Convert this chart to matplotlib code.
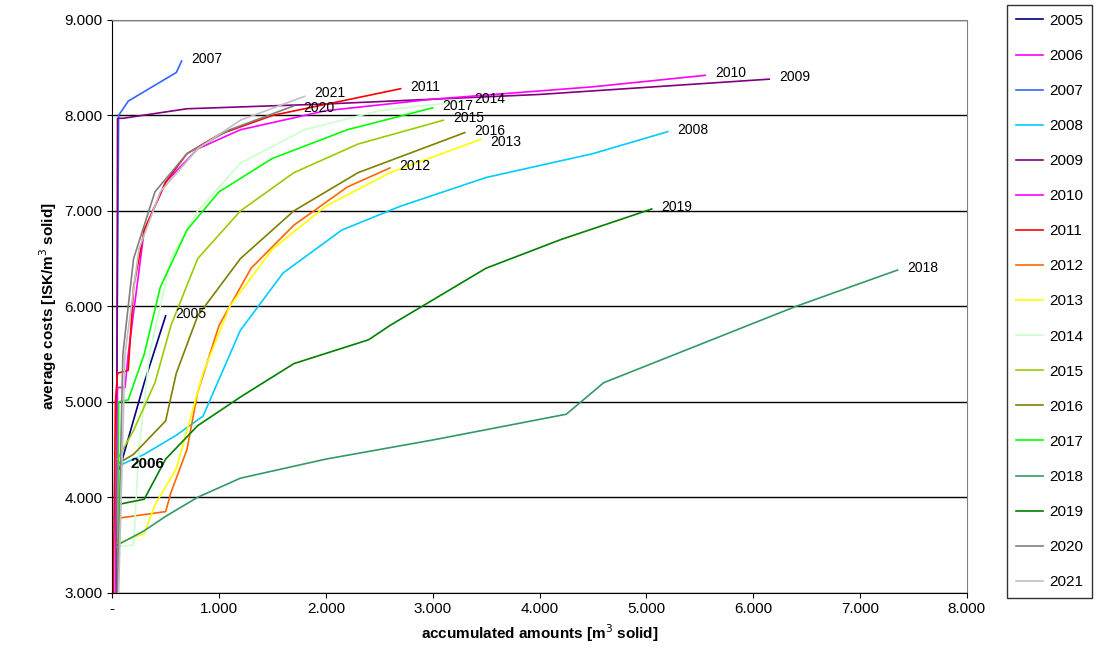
import numpy as np
import matplotlib.pyplot as plt
from matplotlib.ticker import FuncFormatter

years = ["2005", "2006", "2007", "2008", "2009", "2010", "2011", "2012", "2013",
         "2014", "2015", "2016", "2017", "2018", "2019", "2020", "2021"]
colors = ["#000080", "#ff00ff", "#3366ff", "#00ccff", "#800080", "#ff00ff", "#ff0000",
          "#ff6600", "#ffff00", "#ccffcc", "#99cc00", "#808000", "#00ff00", "#339966",
          "#008000", "#808080", "#c0c0c0"]

# accumulated amounts (thousand m3) and average costs (thousand ISK/m3)
x2005 = [0.07, 0.3, 0.5]
y2005 = [4.3, 5.2, 5.9]
x2006 = [0.05, 0.1]
y2006 = [4.3, 4.35]
x2007 = [0.03, 0.06, 0.15, 0.6, 0.65]
y2007 = [3.0, 8.0, 8.15, 8.45, 8.57]
x2008 = [0.1, 0.3, 0.6, 0.85, 1.2, 1.6, 2.15, 2.7, 3.5, 4.5, 5.2]
y2008 = [4.35, 4.45, 4.65, 4.85, 5.75, 6.35, 6.8, 7.05, 7.35, 7.6, 7.83]
x2009 = [0.04, 0.05, 0.1, 0.7, 2.0, 4.0, 6.15]
y2009 = [3.0, 7.97, 7.97, 8.07, 8.12, 8.22, 8.38]
x2010 = [0.03, 0.05, 0.12, 0.15, 0.3, 0.5, 0.8, 1.2, 2.0, 3.0, 4.5, 5.55]
y2010 = [3.0, 5.15, 5.15, 5.5, 6.8, 7.3, 7.65, 7.85, 8.05, 8.17, 8.3, 8.42]
x2011 = [0.01, 0.03, 0.05, 0.15, 0.2, 0.3, 0.5, 0.7, 1.0, 1.5, 2.7]
y2011 = [3.0, 5.0, 5.3, 5.33, 6.2, 6.8, 7.3, 7.6, 7.8, 8.0, 8.28]
x2012 = [0.05, 0.5, 0.55, 0.7, 0.8, 1.0, 1.3, 1.7, 2.2, 2.6]
y2012 = [3.78, 3.85, 4.05, 4.5, 5.1, 5.8, 6.4, 6.85, 7.25, 7.45]
x2013 = [0.05, 0.3, 0.4, 0.6, 0.7, 0.85, 1.1, 1.5, 2.0, 2.6, 3.45]
y2013 = [3.52, 3.62, 3.92, 4.3, 4.7, 5.3, 6.0, 6.6, 7.05, 7.4, 7.75]
x2014 = [0.05, 0.2, 0.25, 0.35, 0.55, 0.8, 1.2, 1.8, 2.5, 3.3]
y2014 = [3.48, 3.5, 4.5, 5.5, 6.5, 7.0, 7.5, 7.85, 8.05, 8.15]
x2015 = [0.05, 0.2, 0.4, 0.55, 0.8, 1.2, 1.7, 2.3, 3.1]
y2015 = [4.4, 4.7, 5.2, 5.8, 6.5, 7.0, 7.4, 7.7, 7.95]
x2016 = [0.05, 0.2, 0.5, 0.6, 0.8, 1.2, 1.7, 2.3, 3.3]
y2016 = [4.35, 4.45, 4.8, 5.3, 5.9, 6.5, 7.0, 7.4, 7.82]
x2017 = [0.05, 0.06, 0.15, 0.3, 0.45, 0.7, 1.0, 1.5, 2.2, 3.0]
y2017 = [3.0, 5.0, 5.02, 5.5, 6.2, 6.8, 7.2, 7.55, 7.85, 8.08]
x2018 = [0.05, 0.3, 0.5, 0.8, 1.2, 2.0, 3.0, 4.25, 4.6, 5.5, 6.4, 7.35]
y2018 = [3.5, 3.65, 3.8, 4.0, 4.2, 4.4, 4.6, 4.87, 5.2, 5.6, 6.0, 6.38]
x2019 = [0.08, 0.3, 0.5, 0.8, 1.2, 1.7, 2.4, 2.6, 2.9, 3.5, 4.2, 5.05]
y2019 = [3.93, 3.98, 4.4, 4.75, 5.05, 5.4, 5.65, 5.8, 6.0, 6.4, 6.7, 7.02]
x2020 = [0.05, 0.1, 0.2, 0.4, 0.7, 1.1, 1.7]
y2020 = [3.0, 5.5, 6.5, 7.2, 7.6, 7.85, 8.1]
x2021 = [0.06, 0.12, 0.25, 0.45, 0.8, 1.2, 1.8]
y2021 = [3.0, 5.5, 6.6, 7.2, 7.65, 7.95, 8.2]

xs = [x2005, x2006, x2007, x2008, x2009, x2010, x2011, x2012, x2013,
      x2014, x2015, x2016, x2017, x2018, x2019, x2020, x2021]
ys = [y2005, y2006, y2007, y2008, y2009, y2010, y2011, y2012, y2013,
      y2014, y2015, y2016, y2017, y2018, y2019, y2020, y2021]

# small vertical nudges so end labels don't collide
nudge = {"2013": -50, "2020": -40, "2021": 20}

plt.rcParams['font.family'] = ['Liberation Sans', 'DejaVu Sans']
fig = plt.figure(figsize=(11, 6.66), dpi=100)
ax = fig.add_axes([0.102, 0.110, 0.777, 0.860])

for yr, c, x, y in zip(years, colors, xs, ys):
    ax.plot(np.array(x) * 1000, np.array(y) * 1000, color=c, lw=1.2, label=yr)
    if yr == "2006":
        ax.text(x[0] * 1000 + 120, y[-1] * 1000, yr, fontsize=11, fontweight='bold',
                va='center')
    else:
        ax.text(x[-1] * 1000 + 90, y[-1] * 1000 + 20 + nudge.get(yr, 0), yr,
                fontsize=10, va='center')

ax.set_xlim(0, 8000)
ax.set_ylim(3000, 9000)
ax.set_xticks(np.arange(0, 8001, 1000))
ax.set_yticks(np.arange(3000, 9001, 1000))
fmt = FuncFormatter(lambda v, p: "-" if v == 0 else f"{int(v):,}".replace(",", "."))
ax.xaxis.set_major_formatter(fmt)
ax.yaxis.set_major_formatter(FuncFormatter(lambda v, p: f"{int(v):,}".replace(",", ".")))
ax.yaxis.grid(True, color='black', lw=1)
ax.set_axisbelow(True)
ax.tick_params(labelsize=11)
for s in ['top', 'right']:
    ax.spines[s].set_color('#808080')
ax.set_xlabel("accumulated amounts [m$^3$ solid]", fontsize=11, fontweight='bold')
ax.set_ylabel("average costs [ISK/m$^3$ solid]", fontsize=11, fontweight='bold')

fig.legend(loc='upper left', bbox_to_anchor=(0.915, 0.993), fontsize=11,
           frameon=True, fancybox=False, edgecolor='black', handlelength=1.8,
           handletextpad=0.4, labelspacing=1.38, borderpad=0.6, borderaxespad=0)

fig.savefig("out.png", dpi=100)
